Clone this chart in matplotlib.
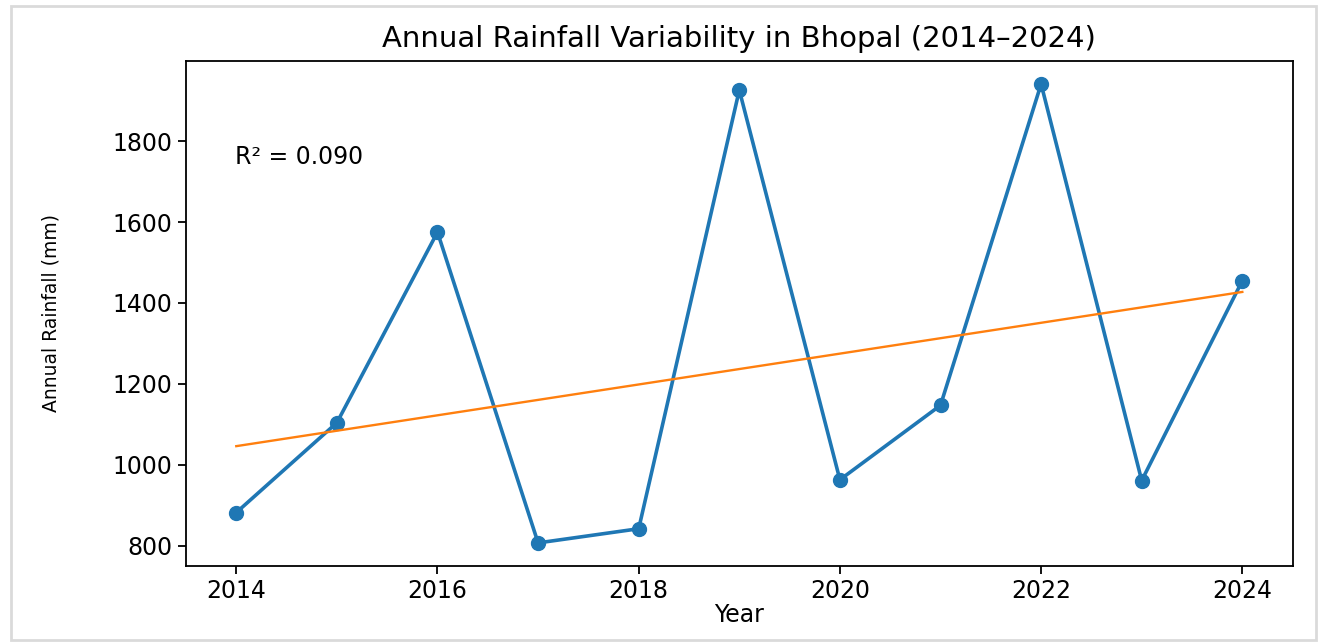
import numpy as np
import matplotlib
matplotlib.use("Agg")
import matplotlib.pyplot as plt
from matplotlib.patches import Rectangle

# annual rainfall
years = [2014, 2015, 2016, 2017, 2018, 2019, 2020, 2021, 2022, 2023, 2024]
rainfall_mm = [882, 1104, 1575, 807, 842, 1926, 963, 1147, 1941, 961, 1455]
year_ticks = [2014, 2016, 2018, 2020, 2022, 2024]
rain_ticks = [800, 1000, 1200, 1400, 1600, 1800]

x = np.array(years, dtype=float)
y = np.array(rainfall_mm, dtype=float)

# linear trend and R^2
slope, intercept = np.polyfit(x, y, 1)
trend = slope * x + intercept
r2 = 1 - np.sum((y - trend) ** 2) / np.sum((y - y.mean()) ** 2)

fig = plt.figure(figsize=(13.19, 6.43), dpi=100)
ax = fig.add_axes([0.141, 0.120, 0.839, 0.785])

ax.plot(x, y, marker="o", color="#1f77b4", linewidth=2.6, markersize=10)
ax.plot(x, trend, color="#ff7f0e", linewidth=1.7)

ax.set_xticks(year_ticks)
ax.set_yticks(rain_ticks)
ax.tick_params(labelsize=17, length=6, width=1.3)
for s in ax.spines.values():
    s.set_linewidth(1.3)

ax.set_title("Annual Rainfall Variability in Bhopal (2014\u20132024)", fontsize=21, pad=10)
ax.set_xlabel("Year", fontsize=17, labelpad=0)
ax.set_ylabel("Annual Rainfall (mm)", fontsize=13.5, labelpad=38)

ax.text(0.044, 0.81, f"R\u00b2 = {r2:.3f}", transform=ax.transAxes, fontsize=17, va="center", ha="left")

# light frame of the screenshot
fig.patches.append(Rectangle((0.008, 0.005), 0.990, 0.985, transform=fig.transFigure,
                             fill=False, edgecolor="#dadada", linewidth=2))

fig.savefig("out.png", dpi=100)
